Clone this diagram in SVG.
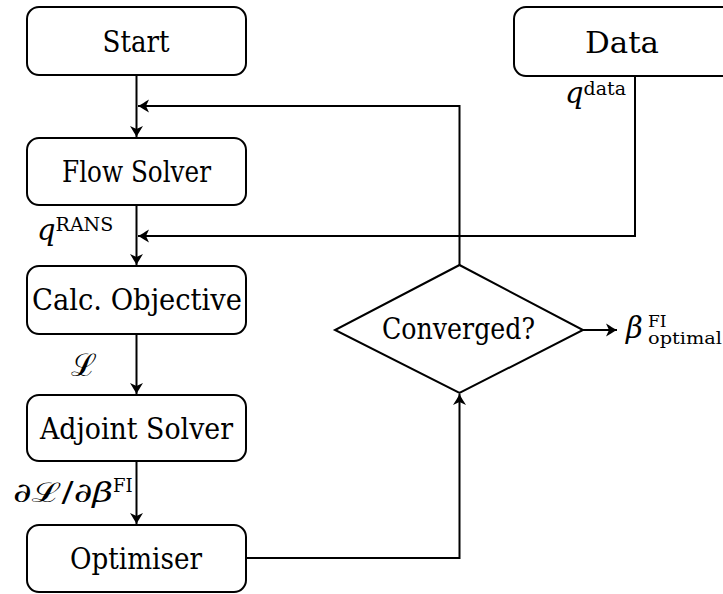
<svg xmlns="http://www.w3.org/2000/svg" width="723" height="594" viewBox="0 0 723 594">
  <style>
    .box { fill: #ffffff; stroke: #000000; stroke-width: 2; }
    .lbl { font-family: "DejaVu Serif", "Liberation Serif", "Noto Serif", serif; font-size: 29px; fill: #000000; text-anchor: middle; }
    .math { font-family: "DejaVu Serif", "Liberation Serif", "Noto Serif", serif; fill: #000000; }
    .it { font-style: italic; }
    .wire { fill: none; stroke: #000000; stroke-width: 2; }
  </style>
  <defs>
    <marker id="arrow" markerUnits="userSpaceOnUse" markerWidth="16" markerHeight="16" viewBox="-13 -8 16 16" refX="0" refY="0" orient="auto">
      <path d="M0,0 C-3,-1.5 -7,-4 -11,-6.5 L-8,0 L-11,6.5 C-7,4 -3,1.5 0,0 Z" fill="#000000"/>
    </marker>
  </defs>

  <!-- process nodes -->
  <g id="start">
    <rect class="box" x="27" y="7" width="219" height="68" rx="12"/>
    <text class="lbl" x="136" y="52" textLength="67" lengthAdjust="spacingAndGlyphs">Start</text>
  </g>
  <g id="flow-solver">
    <rect class="box" x="27" y="138" width="219" height="67" rx="12"/>
    <text class="lbl" x="136.5" y="182" textLength="149" lengthAdjust="spacingAndGlyphs">Flow Solver</text>
  </g>
  <g id="calc-objective">
    <rect class="box" x="27" y="266" width="219" height="68" rx="12"/>
    <text class="lbl" x="137" y="310" textLength="210" lengthAdjust="spacingAndGlyphs">Calc. Objective</text>
  </g>
  <g id="adjoint-solver">
    <rect class="box" x="27" y="395" width="219" height="66" rx="12"/>
    <text class="lbl" x="136.5" y="439" textLength="193" lengthAdjust="spacingAndGlyphs">Adjoint Solver</text>
  </g>
  <g id="optimiser">
    <rect class="box" x="27" y="525" width="219" height="67" rx="12"/>
    <text class="lbl" x="136" y="569" textLength="132" lengthAdjust="spacingAndGlyphs">Optimiser</text>
  </g>
  <g id="data">
    <rect class="box" x="514" y="7" width="222" height="69" rx="12"/>
    <text class="lbl" x="622" y="53" textLength="74" lengthAdjust="spacingAndGlyphs">Data</text>
  </g>
  <g id="converged">
    <polygon class="box" points="459.5,265 583,330 459.5,393 335,330"/>
    <text class="lbl" x="458.5" y="339" textLength="153" lengthAdjust="spacingAndGlyphs">Converged?</text>
  </g>

  <!-- connectors -->
  <g id="connectors">
    <line class="wire" x1="136.5" y1="75" x2="136.5" y2="137" marker-end="url(#arrow)"/>
    <line class="wire" x1="136.5" y1="205" x2="136.5" y2="265" marker-end="url(#arrow)"/>
    <line class="wire" x1="136.5" y1="334" x2="136.5" y2="394" marker-end="url(#arrow)"/>
    <line class="wire" x1="136.5" y1="461" x2="136.5" y2="524" marker-end="url(#arrow)"/>
    <polyline class="wire" points="459.5,265 459.5,106 138,106" marker-end="url(#arrow)"/>
    <polyline class="wire" points="635,76 635,236 138,236" marker-end="url(#arrow)"/>
    <polyline class="wire" points="246,558 459.5,558 459.5,394" marker-end="url(#arrow)"/>
    <line class="wire" x1="583" y1="330" x2="617" y2="330" marker-end="url(#arrow)"/>
  </g>

  <!-- edge labels -->
  <g id="labels">
    <text class="math" x="37" y="240" font-size="29"><tspan class="it">q</tspan><tspan font-size="19" dy="-9">RANS</tspan></text>
    <text class="math" x="565" y="103" font-size="29"><tspan class="it">q</tspan><tspan font-size="19" dy="-8">data</tspan></text>
    <text class="math it" x="71" y="376" font-size="31">ℒ</text>
    <text class="math" x="13" y="502" font-size="27" textLength="100" lengthAdjust="spacingAndGlyphs"><tspan>∂</tspan><tspan class="it">ℒ</tspan><tspan>/∂</tspan><tspan class="it">β</tspan></text>
    <text class="math" x="113" y="492" font-size="18">FI</text>
    <text class="math" x="626" y="338" font-size="29"><tspan class="it">β</tspan><tspan font-size="17" x="648" y="327">FI</tspan><tspan font-size="17" x="648" y="344" textLength="74" lengthAdjust="spacingAndGlyphs">optimal</tspan></text>
  </g>
</svg>
